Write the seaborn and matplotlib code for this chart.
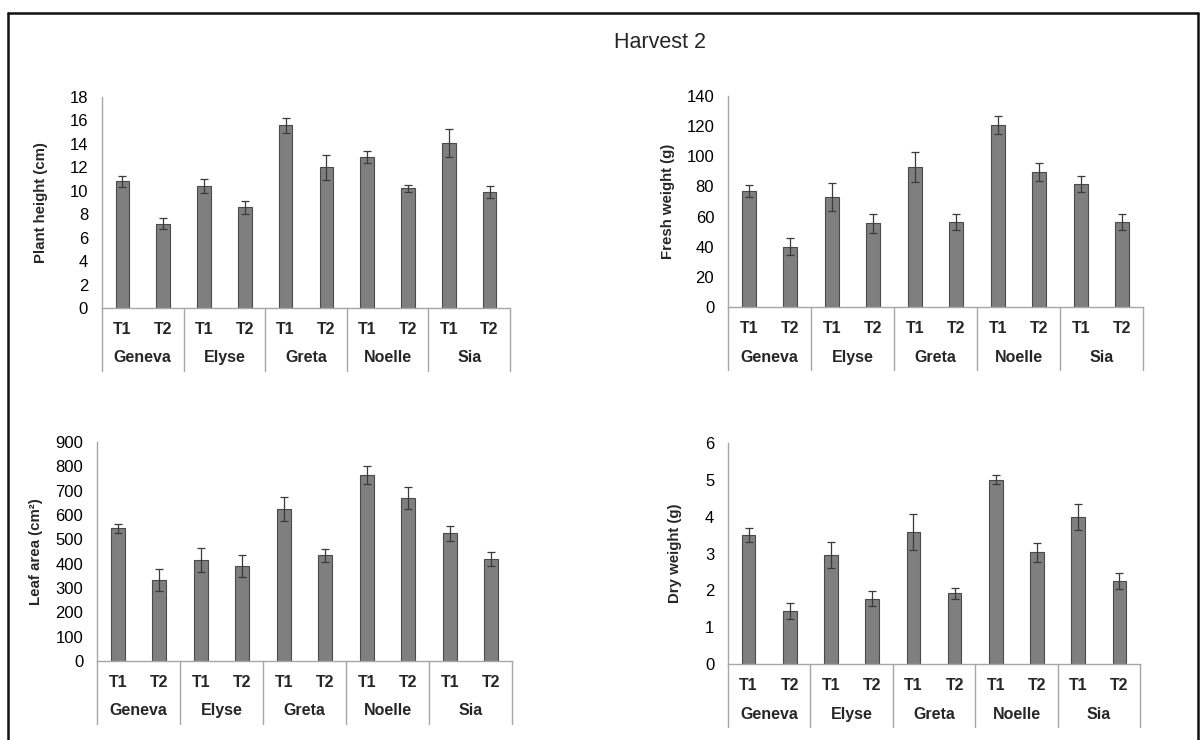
import matplotlib
matplotlib.use("Agg")
import matplotlib.pyplot as plt
from matplotlib.lines import Line2D
from matplotlib.transforms import blended_transform_factory
import pandas as pd
import seaborn as sns

# Harvest 2 measurements: mean and error for each variety x treatment (T1, T2 interleaved)
varieties = ["Geneva", "Elyse", "Greta", "Noelle", "Sia"]
treatments = ["T1", "T2"]

height_mean = [10.8, 7.2, 10.4, 8.6, 15.6, 12.0, 12.9, 10.2, 14.1, 9.9]
height_err = [0.5, 0.5, 0.6, 0.55, 0.65, 1.05, 0.5, 0.3, 1.2, 0.5]

fresh_mean = [77, 40, 73, 55.5, 93, 56.5, 120.5, 89.5, 81.5, 56.5]
fresh_err = [3.8, 5.8, 9.2, 6.5, 10.0, 5.5, 6.0, 6.0, 5.5, 5.5]

leaf_mean = [545, 333, 415, 390, 625, 435, 765, 668, 525, 418]
leaf_err = [18, 45, 48, 45, 50, 27, 38, 45, 30, 28]

dry_mean = [3.5, 1.45, 2.97, 1.77, 3.58, 1.92, 5.0, 3.03, 4.0, 2.25]
dry_err = [0.2, 0.22, 0.35, 0.2, 0.48, 0.15, 0.12, 0.25, 0.35, 0.22]

panels = [
    # (means, errors, y label, ylim top, tick step, [left, bottom, width, height], label x)
    (height_mean, height_err, "Plant height (cm)", 18, 2, [0.0847, 0.5838, 0.3389, 0.2851], -0.132),
    (fresh_mean, fresh_err, "Fresh weight (g)", 140, 20, [0.6047, 0.5851, 0.3447, 0.2851], -0.128),
    (leaf_mean, leaf_err, "Leaf area (cm\u00b2)", 900, 100, [0.0806, 0.1068, 0.3447, 0.2959], -0.130),
    (dry_mean, dry_err, "Dry weight (g)", 6, 1, [0.6047, 0.1027, 0.3422, 0.2986], -0.112),
]

sns.set_theme(style="white")
plt.rcParams["font.family"] = ["Liberation Sans", "DejaVu Sans"]

fig = plt.figure(figsize=(12.04, 7.40), dpi=100)
fig.patch.set_facecolor("white")

bar_color = "#7f7f7f"
edge_color = "#4a4a4a"
line_gray = "#a6a6a6"

for means, errs, ylabel, ytop, step, rect, lab_x in panels:
    ax = fig.add_axes(rect)
    df = pd.DataFrame({
        "pos": [f"{v} {t}" for v in varieties for t in treatments],
        "Variety": [v for v in varieties for _ in treatments],
        "Treatment": [t for _ in varieties for t in treatments],
        "value": means,
    })
    sns.barplot(data=df, x="pos", y="value", color=bar_color, width=0.33,
                edgecolor=edge_color, linewidth=0.8, saturation=1,
                errorbar=None, ax=ax)
    centers = [p.get_x() + p.get_width() / 2 for p in ax.patches]
    ax.errorbar(centers, means, yerr=errs, fmt="none", ecolor="#3a3a3a",
                elinewidth=0.9, capsize=3.2, capthick=0.9)

    ax.set_ylim(0, ytop)
    ax.set_xlim(-0.5, len(df) - 0.5)
    ax.set_yticks(range(0, ytop + 1, step))
    ax.tick_params(axis="y", length=0, pad=10, labelsize=12, colors="#000000")
    ax.tick_params(axis="x", length=0, pad=10, labelsize=11.5)
    ax.set_xticks(range(len(df)))
    ax.set_xticklabels(df["Treatment"], fontweight="bold")
    ax.set_xlabel("")
    ax.set_ylabel(ylabel, fontsize=10.8, fontweight="bold")
    ax.yaxis.set_label_coords(lab_x, 0.5)

    for side in ["top", "right"]:
        ax.spines[side].set_visible(False)
    ax.spines["left"].set_color(line_gray)
    ax.spines["bottom"].set_color(line_gray)
    ax.spines["left"].set_linewidth(1.0)
    ax.spines["bottom"].set_linewidth(1.0)
    ax.set_facecolor("none")

    # Two-level category axis: separators and variety names below the treatments
    trans = blended_transform_factory(ax.transData, ax.transAxes)
    depth = 63 / ax.bbox.height
    for b in range(len(varieties) + 1):
        xb = 2 * b - 0.5
        ax.add_line(Line2D([xb, xb], [0, -depth], transform=trans,
                           color=line_gray, lw=1.0, clip_on=False))
    for i, v in enumerate(varieties):
        ax.annotate(v, xy=(2 * i + 0.5, 0), xycoords=trans,
                    xytext=(0, -36), textcoords="offset points",
                    ha="center", va="center", fontsize=11.5, fontweight="bold")

fig.text(660 / 1204, 1 - 42 / 740, "Harvest 2", ha="center", va="center", fontsize=15.5)

# Outer frame around the figure
frame_kw = dict(color="#111111", lw=1.8, transform=fig.transFigure)
x0, x1, y_top = 8 / 1204, 1198 / 1204, 1 - 12.5 / 740
fig.add_artist(Line2D([x0, x1], [y_top, y_top], **frame_kw))
fig.add_artist(Line2D([x0, x0], [0, y_top], **frame_kw))
fig.add_artist(Line2D([x1, x1], [0, y_top], **frame_kw))

fig.savefig("out.png", dpi=100, facecolor="white")
